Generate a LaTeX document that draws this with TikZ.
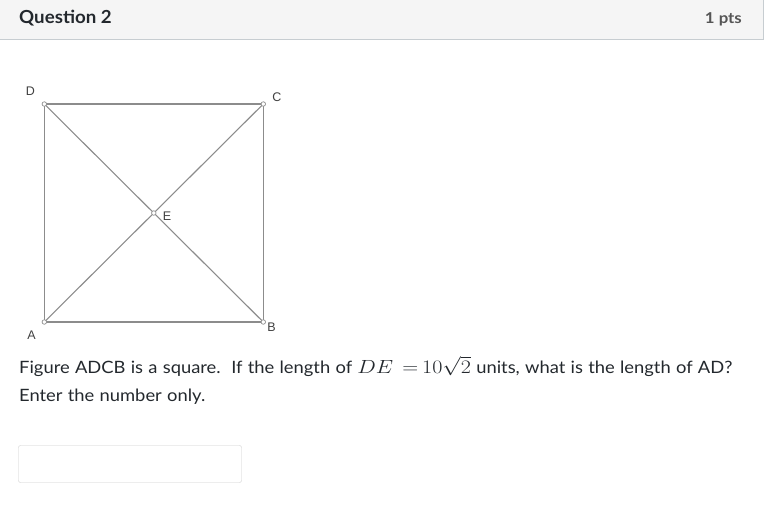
\documentclass[tikz,border=0pt]{standalone}
\usepackage{fix-cm}
\usepackage{fontspec}
\setmainfont{Lato}[FakeStretch=1.08, WordSpace=1.12]
\newfontfamily\titlefont{Lato}[FakeStretch=1.04]
\newfontfamily\ptsfont{Lato}[FakeStretch=1.12]
\newfontfamily\ptfont{Liberation Sans}
\definecolor{headfill}{RGB}{245, 245, 245}
\definecolor{headline}{RGB}{199, 205, 209}
\definecolor{sqline}{RGB}{140, 140, 140}
\definecolor{ptsgray}{RGB}{85, 85, 85}
\definecolor{boxline}{RGB}{204, 204, 204}
\definecolor{canvastext}{RGB}{35, 40, 45}
\usetikzlibrary{calc}
\newcommand{\bigmath}[1]{\scalebox{1.3}[1.12]{$#1$}}
\tikzset{
    side/.style={draw=sqline, line width=1.1pt},
    vertex/.style={circle, draw=sqline, fill=white, line width=.7pt,
        inner sep=0pt, minimum size=4.5pt},
    ptlabel/.style={font=\ptfont\fontsize{12.5}{14}\selectfont,
        text=black!75, inner sep=0pt},
    bodytext/.style={font=\fontsize{17}{20}\selectfont, inner sep=0pt,
        anchor=base west, text=canvastext},
}

\begin{document}
\begin{tikzpicture}[x=1pt, y=-1pt]
        \useasboundingbox (0, 0) rectangle (765, 504);
        \fill[headfill] (0, 0) rectangle (763, 39);
        \draw[headline] (0, 39.5) -- (763.5, 39.5) -- (763.5, 0);
        \node[bodytext, font=\titlefont\bfseries\fontsize{18}{20}\selectfont]
            (title) at (19, 23.5) {Question 2};
        \node[bodytext, anchor=base east, text=ptsgray,
            font=\ptsfont\bfseries\fontsize{15}{18}\selectfont]
            (points) at (742, 23.5) {1 pts};
        \coordinate (A) at (44.3, 322);
        \coordinate (B) at (263.3, 322);
        \coordinate (C) at (263.3, 104);
        \coordinate (D) at (44.3, 104);
        \coordinate (E) at ($(A)!.5!(C)$);
        \draw[side] (A) -- (B) -- (C) -- (D) -- cycle;
        \draw[side] (A) -- (C);
        \draw[side] (D) -- (B);
        \foreach \p in {A, B, C, D, E}
            \node[vertex] (\p dot) at (\p) {};
        \node[ptlabel] (Alabel) at (31.5, 335) {A};
        \node[ptlabel] (Blabel) at (271.5, 327) {B};
        \node[ptlabel] (Clabel) at (277, 97) {C};
        \node[ptlabel] (Dlabel) at (30.5, 91) {D};
        \node[ptlabel] (Elabel) at (167, 216.5) {E};
        \node[bodytext] (question) at (19, 373.5)
            {Figure ADCB is a square.\ \ If the length of
            \bigmath{DE}\hspace{9pt}\bigmath{=}\hspace{4pt}\bigmath{10\sqrt{2}}
            units, what is the length of AD?};
        \node[bodytext] (enter) at (19, 401.5) {Enter the number only.};
        \draw[boxline, rounded corners=2pt] (18.5, 445.5) rectangle
            (241.5, 482.5);
    \end{tikzpicture}
\end{document}
